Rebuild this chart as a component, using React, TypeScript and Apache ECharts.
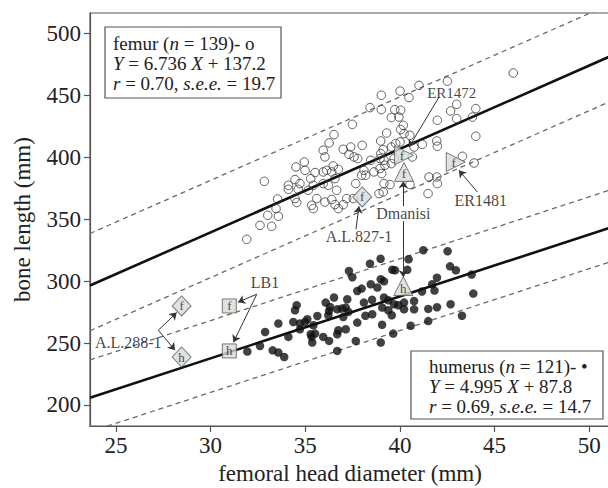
import React, { useEffect, useRef } from "react";
import * as echarts from "echarts";

const SERIF = "'Liberation Serif', 'Times New Roman', 'DejaVu Serif', serif";

const X_MIN = 23.63;
const X_MAX = 51.1;
const Y_MIN = 183;
const Y_MAX = 516.4;
const xTicks = [25, 30, 35, 40, 45, 50];
const yTicks = [200, 250, 300, 350, 400, 450, 500];

// regression and interval lines, values at the two ends of the x range
const lineEndsX = [23.63, 51.1];
const femurLine = [296.4, 481.4];
const femurUpper = [338.4, 523.4];
const femurLower = [259.9, 444.9];
const humerusLine = [205.8, 343.0];
const humerusUpper = [236.3, 373.5];
const humerusLower = [178.3, 315.5];

const femurPoints: [number, number][] = [
  [31.91, 333.7], [32.61, 345.0], [33.23, 344.2], [33.02, 353.1], [33.58, 352.3],
  [33.46, 358.5], [32.84, 380.5], [33.54, 366.2], [34.46, 366.6], [34.55, 363.4],
  [34.11, 377.3], [34.11, 374.1], [34.46, 381.9], [34.72, 378.7], [34.63, 374.1],
  [34.51, 392.1], [34.95, 396.1], [34.99, 389.4], [35.52, 387.6], [35.95, 388.1],
  [36.13, 389.4], [36.48, 392.9], [36.75, 390.2], [36.40, 388.1], [35.16, 373.3],
  [35.43, 377.3], [35.95, 378.7], [36.22, 377.3], [36.57, 382.7], [36.66, 373.3],
  [35.61, 366.6], [35.34, 361.2], [35.43, 358.5], [36.04, 363.8], [36.40, 365.8],
  [36.57, 361.7], [36.75, 358.5], [37.01, 361.7], [37.19, 366.6], [37.54, 366.6],
  [35.95, 405.6], [36.04, 400.2], [37.01, 406.4], [45.99, 468.0], [42.51, 461.3],
  [41.01, 458.0], [40.01, 453.4], [39.02, 450.0], [40.48, 448.1], [38.42, 440.0],
  [39.02, 438.4], [39.73, 438.4], [40.04, 437.9], [39.55, 432.0], [39.95, 432.4],
  [40.18, 425.7], [40.04, 422.3], [39.30, 419.5], [40.22, 419.0], [40.53, 417.7],
  [42.68, 437.3], [43.00, 442.7], [43.00, 431.1], [44.01, 439.2], [43.83, 432.4],
  [41.98, 429.8], [44.01, 416.9], [37.49, 426.5], [36.52, 418.2], [36.26, 411.5],
  [37.40, 408.2], [37.31, 402.3], [37.58, 400.2], [38.01, 409.6], [38.99, 413.1],
  [39.12, 406.1], [39.55, 408.2], [39.78, 411.0], [41.18, 410.4], [41.95, 413.1],
  [41.98, 408.8], [40.66, 400.2], [40.75, 408.2], [38.46, 397.5], [38.99, 402.9],
  [39.16, 397.5], [39.55, 394.8], [39.69, 398.9], [43.30, 400.7], [43.92, 395.3],
  [35.29, 382.7], [37.67, 378.7], [38.10, 389.4], [38.63, 388.1], [38.19, 385.4],
  [39.04, 386.8], [39.16, 378.7], [39.48, 377.9], [39.12, 371.9], [38.90, 370.6],
  [41.54, 384.0], [41.98, 378.7], [41.49, 370.6], [40.01, 412.3], [37.77, 398.9],
  [38.95, 398.9], [39.21, 393.5], [38.95, 390.8], [37.98, 385.4], [41.95, 384.0],
  [40.53, 377.9]
];

const humerusPoints: [number, number][] = [
  [42.52, 324.1], [41.24, 324.9], [40.46, 317.6], [38.98, 318.0], [38.42, 314.0],
  [42.65, 311.9], [42.96, 308.7], [43.79, 305.2], [41.96, 302.7], [43.88, 289.9],
  [42.68, 281.3], [41.96, 278.9], [41.50, 277.5], [41.50, 267.7], [43.28, 272.0],
  [40.57, 263.9], [39.65, 257.6], [38.99, 250.4], [37.67, 251.7], [36.69, 243.6],
  [39.60, 309.1], [40.39, 309.1], [37.31, 308.2], [37.49, 303.1], [38.99, 301.5],
  [39.16, 299.8], [38.46, 297.4], [37.75, 292.0], [37.22, 285.3], [36.52, 286.7],
  [36.08, 282.6], [35.64, 271.8], [36.26, 275.9], [36.69, 277.2], [37.14, 278.6],
  [38.10, 282.6], [38.53, 284.9], [39.16, 286.7], [39.07, 278.6], [39.69, 281.3],
  [40.22, 282.6], [40.75, 283.9], [41.17, 291.6], [41.83, 292.3], [41.71, 297.4],
  [40.75, 277.2], [40.22, 277.2], [38.54, 273.2], [38.18, 272.0], [37.75, 266.5],
  [39.06, 264.7], [37.14, 261.1], [36.69, 257.1], [36.26, 251.7], [35.37, 250.4],
  [35.29, 257.1], [38.81, 294.8], [35.11, 269.2], [39.74, 308.7], [37.98, 293.9],
  [39.39, 284.5], [39.57, 272.4], [39.92, 280.5], [39.39, 276.4], [36.31, 279.1],
  [36.22, 272.4], [36.93, 277.8], [37.01, 271.0], [37.28, 275.1], [34.55, 280.5],
  [34.46, 276.4], [34.37, 267.0], [34.72, 265.7], [34.99, 267.0], [35.43, 264.3],
  [33.58, 265.7], [32.88, 258.9], [35.52, 257.6], [35.95, 254.9], [36.75, 260.3],
  [34.11, 254.9], [35.34, 254.9], [31.94, 243.1], [32.61, 247.6], [33.28, 244.1],
  [33.58, 242.3], [33.89, 238.7], [34.72, 261.1]
];

// fossil specimens
const fossilX = [40.22, 40.22, 42.95, 38.01, 28.47, 28.47, 30.99, 30.99, 40.18];
const fossilY = [401.5, 388.1, 396.1, 367.9, 279.9, 238.7, 279.9, 243.6, 296.0];
const fossilBone = ["f", "f", "f", "f", "f", "h", "f", "h", "h"];
const fossilSymbol = ["triangle", "triangle", "triangle", "diamond", "diamond", "diamond", "rect", "rect", "triangle"];
const fossilRotate = [-90, 0, -90, 0, 0, 0, 0, 0, 0];

// specimen labels
const labelNames = ["ER1472", "Dmanisi", "ER1481", "A.L.827-1", "A.L.288-1", "LB1"];
const labelX = [42.74, 40.18, 44.27, 37.84, 25.65, 32.87];
const labelY = [451.8, 354.5, 365.2, 336.2, 250.4, 298.8];
const labelSize = [15, 16, 16, 16, 16, 16];

// arrows: [from, to]
const arrows: [[number, number], [number, number]][] = [
  [[42.07, 448.6], [40.48, 408.2]],
  [[40.18, 360.4], [40.18, 380.5]],
  [[40.18, 348.3], [40.18, 303.1]],
  [[44.09, 371.9], [43.12, 389.4]],
  [[37.68, 341.8], [37.84, 360.4]],
  [[27.24, 260.3], [28.21, 274.6]],
  [[27.24, 260.3], [28.12, 244.2]],
  [[32.44, 289.4], [31.45, 282.9]],
  [[32.44, 289.4], [31.21, 250.6]]
];

const seg = (ys: number[]) => lineEndsX.map((x, i) => [x, ys[i]]);

export default function App() {
  const ref = useRef<HTMLDivElement>(null);
  useEffect(() => {
    document.body.style.margin = "0";
    if (!ref.current) return;
    const chart = echarts.init(ref.current, null, { renderer: "svg" });
    const dashed = (ys: number[]) => ({
      type: "line",
      data: seg(ys),
      showSymbol: false,
      symbol: "none",
      silent: true,
      lineStyle: { color: "#6a6a6a", width: 1.3, type: [5, 4] },
      z: 2,
    });
    const solid = (ys: number[]) => ({
      type: "line",
      data: seg(ys),
      showSymbol: false,
      symbol: "none",
      silent: true,
      lineStyle: { color: "#111", width: 2.6 },
      z: 3,
    });
    const rich = {
      r: { fontFamily: SERIF, fontSize: 19, lineHeight: 20, fill: "#222" },
      i: { fontFamily: SERIF, fontSize: 19, lineHeight: 20, fill: "#222", fontStyle: "italic" },
    };
    chart.setOption({
      animation: false,
      backgroundColor: "#fff",
      grid: {
        left: 90,
        top: 13,
        right: -2,
        bottom: 62,
        show: true,
        borderColor: "#555",
        borderWidth: 1.2,
        containLabel: false,
        outerBoundsMode: "none",
      },
      xAxis: {
        type: "value",
        min: X_MIN,
        max: X_MAX,
        splitLine: { show: false },
        axisLine: { show: true, lineStyle: { color: "#555", width: 1.2 } },
        axisTick: { show: true, inside: false, length: 6, customValues: xTicks, lineStyle: { color: "#555", width: 1.2 } },
        axisLabel: { customValues: xTicks, fontFamily: SERIF, fontSize: 23, color: "#222", margin: 8 },
        name: "femoral head diameter (mm)",
        nameLocation: "middle",
        nameGap: 33,
        nameTextStyle: { fontFamily: SERIF, fontSize: 23, color: "#222" },
      },
      yAxis: {
        type: "value",
        min: Y_MIN,
        max: Y_MAX,
        splitLine: { show: false },
        axisLine: { show: true, lineStyle: { color: "#555", width: 1.2 } },
        axisTick: { show: true, inside: false, length: 6, customValues: yTicks, lineStyle: { color: "#555", width: 1.2 } },
        axisLabel: { customValues: yTicks, fontFamily: SERIF, fontSize: 23, color: "#222", margin: 9 },
        name: "bone length (mm)",
        nameLocation: "middle",
        nameGap: 56,
        nameTextStyle: { fontFamily: SERIF, fontSize: 23, color: "#222" },
      },
      series: [
        dashed(femurUpper),
        dashed(femurLower),
        dashed(humerusUpper),
        dashed(humerusLower),
        solid(femurLine),
        solid(humerusLine),
        {
          type: "scatter",
          data: femurPoints,
          symbol: "circle",
          symbolSize: 8.5,
          silent: true,
          itemStyle: { color: "rgba(255,255,255,0)", borderColor: "#3a3a3a", borderWidth: 1 },
          z: 4,
        },
        {
          type: "scatter",
          data: humerusPoints,
          symbol: "circle",
          symbolSize: 8.5,
          silent: true,
          itemStyle: { color: "#111" },
          z: 4,
        },
        {
          type: "lines",
          coordinateSystem: "cartesian2d",
          data: arrows.map((a) => ({ coords: a })),
          symbol: ["none", "arrow"],
          symbolSize: 7,
          silent: true,
          lineStyle: { color: "#333", width: 1, opacity: 1 },
          z: 5,
        },
        {
          type: "scatter",
          silent: true,
          z: 6,
          data: fossilX.map((x, i) => ({
            value: [x, fossilY[i]],
            symbol: fossilSymbol[i],
            symbolRotate: fossilRotate[i],
            symbolSize: fossilSymbol[i] === "rect" ? 14 : fossilSymbol[i] === "diamond" ? [19, 20] : 19,
            label: {
              show: true,
              position: "inside",
              formatter: fossilBone[i],
              offset: fossilSymbol[i] === "triangle" ? (fossilRotate[i] === 0 ? [0, 2] : [-2, 0]) : [0, 0],
              fontFamily: SERIF,
              fontSize: 13,
              color: "#222",
            },
          })),
          itemStyle: { color: "#d9d9d9", borderColor: "#5a5a5a", borderWidth: 1 },
        },
        {
          type: "scatter",
          silent: true,
          z: 7,
          symbolSize: 0,
          data: labelX.map((x, i) => ({
            value: [x, labelY[i]],
            name: labelNames[i],
            label: {
              show: true,
              position: "inside",
              formatter: "{b}",
              fontFamily: SERIF,
              fontSize: labelSize[i],
              color: "#111",
            },
          })),
        },
      ],
      graphic: [
        {
          type: "rect",
          shape: { x: 105, y: 27, width: 176, height: 71 },
          style: { fill: "#fff", stroke: "#555", lineWidth: 1.2 },
          z: 10,
        },
        {
          type: "text",
          x: 113,
          y: 33,
          z: 11,
          style: {
            text: "{r|femur (}{i|n}{r| = 139)- o}\n{i|Y}{r| = 6.736 }{i|X}{r| + 137.2}\n{i|r}{r| = 0.70, }{i|s.e.e.}{r| = 19.7}",
            rich,
            verticalAlign: "top",
          },
        },
        {
          type: "rect",
          shape: { x: 411, y: 351, width: 192, height: 68 },
          style: { fill: "#fff", stroke: "#555", lineWidth: 1.2 },
          z: 10,
        },
        {
          type: "text",
          x: 429,
          y: 356,
          z: 11,
          style: {
            text: "{r|humerus (}{i|n}{r| = 121)- •}\n{i|Y}{r| = 4.995 }{i|X}{r| + 87.8}\n{i|r}{r| = 0.69, }{i|s.e.e.}{r| = 14.7}",
            rich,
            verticalAlign: "top",
          },
        },
      ],
    });
    return () => chart.dispose();
  }, []);
  return <div ref={ref} style={{ width: 608, height: 488 }} />;
}
